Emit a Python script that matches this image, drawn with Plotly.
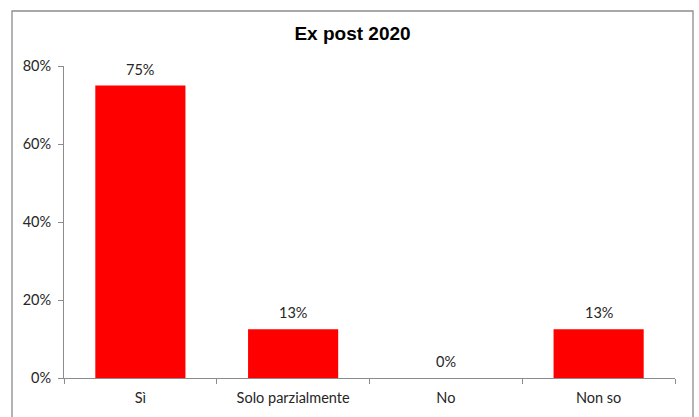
import plotly.graph_objects as go

categories = ["Sì", "Solo parzialmente", "No", "Non so"]
values = [75, 12.5, 0, 12.5]
value_labels = ["75%", "13%", "0%", "13%"]
y_ticks = [0, 20, 40, 60, 80]
y_tick_labels = ["0%", "20%", "40%", "60%", "80%"]
title_text = "Ex post 2020"

font_main = "Lato, Calibri, Carlito, sans-serif"
axis_color = "#8c8c8c"
text_color = "#262626"
fs = 14.5

fig = go.Figure(go.Bar(
    x=categories, y=values,
    marker=dict(color="#FF0000", line=dict(width=0)),
    width=0.59,
))

for c, v, t in zip(categories, values, value_labels):
    fig.add_annotation(x=c, y=v, text=t, showarrow=False, yanchor="bottom",
                       yshift=6, font=dict(family=font_main, size=fs, color=text_color))

fig.update_layout(
    width=699, height=417,
    margin=dict(l=64, r=24, t=66, b=39),
    paper_bgcolor="white", plot_bgcolor="white",
    showlegend=False,
    title=dict(text=f"<b>{title_text}</b>", x=352.5 / 699, xanchor="center", xref="container",
               y=1 - 33 / 417, yref="container", yanchor="middle",
               font=dict(family="Liberation Sans, Arial, sans-serif", size=19, color="black")),
    xaxis=dict(
        showline=True, linecolor=axis_color, linewidth=1,
        ticks="outside", ticklen=5, tickcolor=axis_color, tickson="boundaries",
        showgrid=False, zeroline=False, ticklabelstandoff=7,
        tickfont=dict(family=font_main, size=fs, color=text_color),
    ),
    yaxis=dict(
        range=[0, 80], tickvals=y_ticks, ticktext=y_tick_labels,
        showline=True, linecolor=axis_color, linewidth=1,
        ticks="outside", ticklen=5, tickcolor=axis_color,
        showgrid=False, zeroline=False, ticklabelstandoff=4,
        tickfont=dict(family=font_main, size=fs, color=text_color),
    ),
)

fig.add_shape(type="rect", xref="paper", yref="paper",
              x0=-52 / 611, x1=(693 - 64) / 611,
              y0=-100 / 312, y1=1 + (66 - 11) / 312,
              line=dict(color=axis_color, width=1.3), fillcolor="rgba(0,0,0,0)", layer="below")

fig.write_html("out.html")
